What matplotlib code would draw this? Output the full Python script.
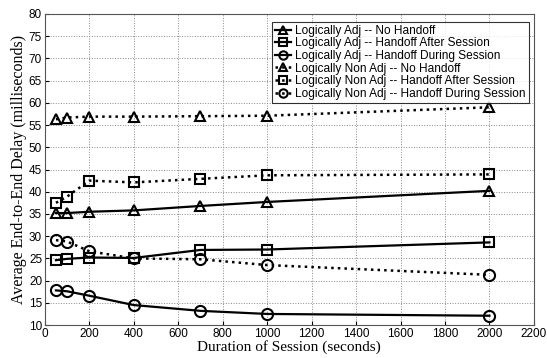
import matplotlib
matplotlib.use("Agg")
import matplotlib.pyplot as plt

# Session durations (seconds)
duration = [50, 100, 200, 400, 700, 1000, 2000]

# Average end-to-end delay (ms)
adj_no_handoff = [35.2, 35.2, 35.5, 35.8, 36.8, 37.7, 40.2]
adj_after = [24.6, 24.9, 25.2, 25.1, 26.9, 27.0, 28.6]
adj_during = [17.8, 17.6, 16.6, 14.5, 13.2, 12.5, 12.1]
nonadj_no_handoff = [56.3, 56.7, 56.9, 56.9, 57.0, 57.1, 59.0]
nonadj_after = [37.5, 38.9, 42.5, 42.1, 42.9, 43.7, 43.9]
nonadj_during = [29.1, 28.8, 26.6, 25.0, 24.8, 23.5, 21.3]

series = [
    ("Logically Adj -- No Handoff", adj_no_handoff, "^", "-"),
    ("Logically Adj -- Handoff After Session", adj_after, "s", "-"),
    ("Logically Adj -- Handoff During Session", adj_during, "o", "-"),
    ("Logically Non Adj -- No Handoff", nonadj_no_handoff, "^", ":"),
    ("Logically Non Adj -- Handoff After Session", nonadj_after, "s", ":"),
    ("Logically Non Adj -- Handoff During Session", nonadj_during, "o", ":"),
]

fig = plt.figure(figsize=(5.47, 3.58), dpi=100)
ax = fig.add_axes([0.082, 0.092, 0.894, 0.869])

for label, vals, mk, ls in series:
    ms = 8 if mk == "o" else 7
    ax.plot(duration, vals, linestyle=ls, marker=mk, color="black",
            markerfacecolor="none", markeredgewidth=1.5, markersize=ms,
            linewidth=1.6 if ls == "-" else 1.8, label=label)

ax.set_xlim(0, 2200)
ax.set_ylim(10, 80)
ax.set_xticks(range(0, 2201, 200))
ax.set_yticks(range(10, 81, 5))
ax.grid(True, linestyle=":", color="#888888", linewidth=0.7)
ax.tick_params(labelsize=8.5, length=3, direction="in", pad=2)
for lbl in ax.get_xticklabels() + ax.get_yticklabels():
    lbl.set_family("Liberation Sans")
for s in ax.spines.values():
    s.set_color("#555555")

ax.set_xlabel("Duration of Session (seconds)", family="Liberation Serif",
              fontsize=11, labelpad=0)
ax.set_ylabel("Average End-to-End Delay (milliseconds)", family="Liberation Serif",
              fontsize=11.5, labelpad=1)

leg = ax.legend(loc="upper right", bbox_to_anchor=(0.99, 0.975),
                prop={"family": "Liberation Sans", "size": 8.6},
                frameon=True, fancybox=False, edgecolor="black",
                handlelength=1.3, handletextpad=0.4, labelspacing=0.05,
                borderpad=0.25, markerscale=0.75, borderaxespad=0)
leg.get_frame().set_linewidth(0.8)

fig.savefig("out.png", dpi=100)
